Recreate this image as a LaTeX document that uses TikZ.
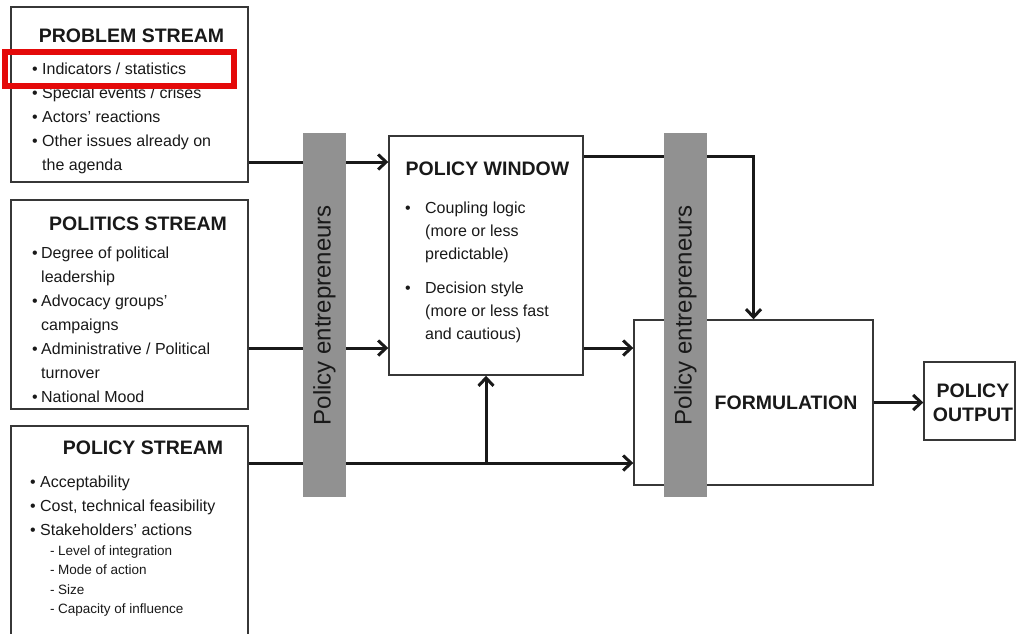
\documentclass[tikz,border=0pt]{standalone}
\usepackage{fontspec}
\setmainfont{Liberation Sans}
\usetikzlibrary{arrows.meta}
\definecolor{barfill}{RGB}{145,145,145}
\definecolor{edge}{RGB}{55,55,55}
\definecolor{ink}{RGB}{25,25,25}
\definecolor{mark}{RGB}{228,10,10}
\begin{document}
\begin{tikzpicture}[x=1pt,y=-1pt,
  box/.style={draw=edge, line width=1.4pt, fill=white, inner sep=0pt},
  bar/.style={fill=barfill, draw=none, inner sep=0pt, minimum width=43pt, minimum height=364pt},
  conn/.style={draw=ink, line width=3pt},
  arr/.style={conn, -{Straight Barb[length=8pt,width=15pt]}},
  ttl/.style={inner sep=0pt, anchor=base, text=ink, font=\fontsize{19.5}{23}\selectfont\bfseries},
  itm/.style={inner sep=0pt, anchor=base west, text=ink, font=\fontsize{16}{19}\selectfont},
  sub/.style={inner sep=0pt, anchor=base west, text=ink, font=\fontsize{13.5}{16}\selectfont},
  vtxt/.style={inner sep=0pt, rotate=90, text=ink, font=\fontsize{24}{28}\selectfont},
]
\useasboundingbox (0,0) rectangle (1016,633);
\newcommand{\bl}[1]{\makebox[#1][l]{•}}

% stream boxes
\node[box, minimum width=237pt, minimum height=175pt] (problem) at (129.5,94.5) {};
\node[box, minimum width=237pt, minimum height=209pt] (politics) at (129.5,304.5) {};
\node[box, minimum width=237pt, minimum height=219pt] (pstream) at (129.5,535.5) {};

% central boxes
\node[box, minimum width=194pt, minimum height=239pt] (window) at (486,255.5) {};
\node[box, minimum width=239pt, minimum height=165pt] (formulation) at (753.5,402.5) {};
\node[box, minimum width=91pt, minimum height=78pt] (output) at (969.5,401) {};

% row levels for the connectors
\coordinate (r1) at (0,162);
\coordinate (r2) at (0,348);
\coordinate (r3) at (0,463);
\coordinate (r4) at (0,156);

% connectors
\draw[arr] (problem.east |- r1) -- (window.west |- r1);
\draw[arr] (politics.east |- r2) -- (window.west |- r2);
\draw[arr] (pstream.east |- r3) -- (formulation.west |- r3);
\coordinate (join) at (window.south |- r3);
\draw[arr] (join) -- (window.south);
\draw[arr] (window.east |- r2) -- (formulation.west |- r2);
\draw[arr] (window.east |- r4) -| (formulation.north);
\draw[arr] (formulation.east) -- (output.west |- formulation.east);

% policy entrepreneurs bars
\node[bar] (bar1) at (324.5,315) {};
\node[bar] (bar2) at (685.5,315) {};
\node[vtxt] (bar1txt) at (bar1) {Policy entrepreneurs};
\node[vtxt] (bar2txt) at (bar2) {Policy entrepreneurs};

% problem stream text
\node[ttl] (t1) at (131.5,42) {PROBLEM STREAM};
\node[itm] (p1) at (32,74) {\bl{10pt}Indicators / statistics};
\node[itm] (p2) at (32,98) {\bl{10pt}Special events / crises};
\node[itm] (p3) at (32,122) {\bl{10pt}Actors’ reactions};
\node[itm] (p4) at (32,146) {\bl{10pt}Other issues already on};
\node[itm] (p5) at (42,170) {the agenda};

% politics stream text
\node[ttl] (t2) at (138,230) {POLITICS STREAM};
\node[itm] (q1) at (32,258) {\bl{9pt}Degree of political};
\node[itm] (q2) at (41,282) {leadership};
\node[itm] (q3) at (32,306) {\bl{9pt}Advocacy groups’};
\node[itm] (q4) at (41,330) {campaigns};
\node[itm] (q5) at (32,354) {\bl{9pt}Administrative / Political};
\node[itm] (q6) at (41,378) {turnover};
\node[itm] (q7) at (32,402) {\bl{9pt}National Mood};

% policy stream text
\node[ttl] (t3) at (143,454) {POLICY STREAM};
\node[itm] (s1) at (30,487) {\bl{10pt}Acceptability};
\node[itm] (s2) at (30,511) {\bl{10pt}Cost, technical feasibility};
\node[itm] (s3) at (30,535) {\bl{10pt}Stakeholders’ actions};
\node[sub] (s4) at (50,555) {\makebox[8pt][l]{-}Level of integration};
\node[sub] (s5) at (50,574.5) {\makebox[8pt][l]{-}Mode of action};
\node[sub] (s6) at (50,594) {\makebox[8pt][l]{-}Size};
\node[sub] (s7) at (50,613.5) {\makebox[8pt][l]{-}Capacity of influence};

% policy window text
\node[ttl] (t4) at (487.5,175) {POLICY WINDOW};
\node[itm] (w1) at (405,213) {\bl{20pt}Coupling logic};
\node[itm] (w2) at (425,236) {(more or less};
\node[itm] (w3) at (425,259) {predictable)};
\node[itm] (w4) at (405,293) {\bl{20pt}Decision style};
\node[itm] (w5) at (425,316) {(more or less fast};
\node[itm] (w6) at (425,339) {and cautious)};

% formulation and output labels
\node[ttl] (t5) at (786,409) {FORMULATION};
\node[ttl] (t6) at (973,397) {POLICY};
\node[ttl] (t7) at (973,421) {OUTPUT};

% highlight frame
\node[draw=mark, line width=6pt, inner sep=0pt, minimum width=229pt, minimum height=34pt] (hl) at (119.5,69) {};
\end{tikzpicture}
\end{document}
